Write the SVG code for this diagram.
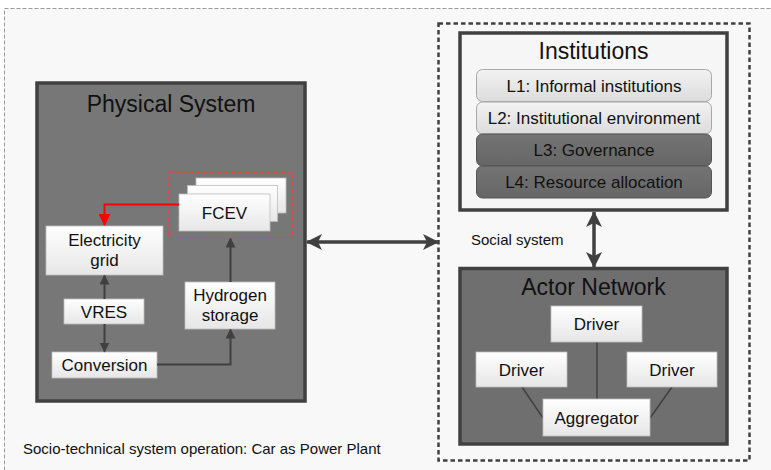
<svg xmlns="http://www.w3.org/2000/svg" width="771" height="470" viewBox="0 0 771 470">
  <defs>
    <linearGradient id="card" x1="0" y1="0" x2="0" y2="1">
      <stop offset="0" stop-color="#ffffff"/>
      <stop offset="1" stop-color="#e6e6e6"/>
    </linearGradient>
    <linearGradient id="layerLight" x1="0" y1="0" x2="0" y2="1">
      <stop offset="0" stop-color="#f2f2f2"/>
      <stop offset="1" stop-color="#dcdcdc"/>
    </linearGradient>
    <linearGradient id="layerDark" x1="0" y1="0" x2="0" y2="1">
      <stop offset="0" stop-color="#747474"/>
      <stop offset="1" stop-color="#666666"/>
    </linearGradient>
    <marker id="head" viewBox="0 0 10 10" refX="9" refY="5" markerWidth="10" markerHeight="10" markerUnits="userSpaceOnUse" orient="auto-start-reverse">
      <path d="M0,0 L10,5 L0,10 z" fill="#404040"/>
    </marker>
    <marker id="bigHead" viewBox="0 0 16 16" refX="15" refY="8" markerWidth="16" markerHeight="16" markerUnits="userSpaceOnUse" orient="auto-start-reverse">
      <path d="M0,0 L16,8 L0,16 L4,8 z" fill="#404040"/>
    </marker>
    <marker id="redHead" viewBox="0 0 12 12" refX="11" refY="6" markerWidth="12" markerHeight="12" markerUnits="userSpaceOnUse" orient="auto">
      <path d="M0,0 L12,6 L0,12 z" fill="#ff0000"/>
    </marker>
  </defs>
  <style>
    text { font-family: "Liberation Sans", Arial, sans-serif; fill: #111; }
    .title { font-size: 23px; text-anchor: middle; }
    .label { font-size: 17px; text-anchor: middle; }
    .small { font-size: 15px; }
    .box { fill: url(#card); stroke: #bdbdbd; stroke-width: 0.8; }
    .frame { stroke: #404040; stroke-width: 3.5; }
    .link { fill: none; stroke: #404040; stroke-width: 2; }
    .tie { fill: none; stroke: #404040; stroke-width: 1.5; }
  </style>

  <!-- background page -->
  <rect x="0" y="0" width="771" height="470" fill="#ffffff"/>
  <rect x="4.5" y="8.5" width="780" height="480" fill="#f8f8f8" stroke="#9a9a9a" stroke-width="1" stroke-dasharray="4 2"/>

  <!-- physical system -->
  <g id="physical-system">
    <rect x="37" y="83" width="268" height="318" fill="#777777" class="frame"/>
    <text class="title" x="171" y="112">Physical System</text>
  </g>

  <g id="fcev">
    <rect x="168.5" y="172.5" width="124" height="65" fill="none" stroke="#d84a4a" stroke-width="1" stroke-dasharray="4 3"/>
    <rect class="box" x="196" y="178" width="90" height="35"/>
    <rect class="box" x="187.5" y="185.5" width="90" height="36"/>
    <rect class="box" x="179" y="194" width="91" height="37"/>
    <text class="label" x="224.5" y="219">FCEV</text>
  </g>

  <g id="electricity-grid">
    <rect class="box" x="46" y="226" width="117" height="49"/>
    <text class="label" x="104.5" y="246">Electricity</text>
    <text class="label" x="104.5" y="266">grid</text>
  </g>

  <g id="vres">
    <rect class="box" x="64" y="299" width="80" height="25"/>
    <text class="label" x="104" y="317.5">VRES</text>
  </g>

  <g id="conversion">
    <rect class="box" x="52" y="352" width="105" height="26"/>
    <text class="label" x="104.5" y="370.5">Conversion</text>
  </g>

  <g id="hydrogen-storage">
    <rect class="box" x="185" y="282" width="90" height="47"/>
    <text class="label" x="230" y="301">Hydrogen</text>
    <text class="label" x="230" y="321">storage</text>
  </g>

  <!-- social system -->
  <g id="social-system">
    <rect x="438.5" y="23.5" width="311" height="437" fill="none" stroke="#404040" stroke-width="2.5" stroke-dasharray="4.5 3"/>
    <text class="small" x="471" y="245">Social system</text>
  </g>

  <g id="institutions">
    <rect x="460" y="33" width="267" height="177" fill="#f6f6f6" class="frame"/>
    <text class="title" x="593.5" y="59">Institutions</text>
    <rect x="476.5" y="69.5" width="235" height="32" rx="6" fill="url(#layerLight)" stroke="#a8a8a8" stroke-width="1"/>
    <text class="label" x="594" y="91.5">L1: Informal institutions</text>
    <rect x="476.5" y="102" width="235" height="32" rx="6" fill="url(#layerLight)" stroke="#a8a8a8" stroke-width="1"/>
    <text class="label" x="594" y="123.5">L2: Institutional environment</text>
    <rect x="476.5" y="134" width="235" height="32" rx="6" fill="url(#layerDark)" stroke="#555555" stroke-width="1"/>
    <text class="label" x="594" y="156">L3: Governance</text>
    <rect x="476.5" y="166" width="235" height="32" rx="6" fill="url(#layerDark)" stroke="#555555" stroke-width="1"/>
    <text class="label" x="594" y="187.5">L4: Resource allocation</text>
  </g>

  <g id="actor-network">
    <rect x="460" y="268.5" width="267" height="175.5" fill="#6f6f6f" class="frame"/>
    <text class="title" x="593.5" y="295">Actor Network</text>
  </g>

  <!-- connectors -->
  <g id="connectors">
    <polyline points="179,204.5 104.5,204.5 104.5,225" fill="none" stroke="#ff0000" stroke-width="2" marker-end="url(#redHead)"/>
    <line class="link" x1="104.5" y1="299" x2="104.5" y2="275.5" marker-end="url(#head)"/>
    <line class="link" x1="104.5" y1="324" x2="104.5" y2="351.5" marker-end="url(#head)"/>
    <polyline class="link" points="157,364.5 230.5,364.5 230.5,329.5" marker-end="url(#head)"/>
    <line class="link" x1="230.5" y1="282" x2="230.5" y2="238.5" marker-end="url(#head)"/>
    <line x1="307" y1="242" x2="438" y2="242" stroke="#404040" stroke-width="3.5" marker-start="url(#bigHead)" marker-end="url(#bigHead)"/>
    <line x1="594" y1="212" x2="594" y2="267" stroke="#404040" stroke-width="3.5" marker-start="url(#bigHead)" marker-end="url(#bigHead)"/>
    <line class="tie" x1="597" y1="342" x2="597" y2="399"/>
    <line class="tie" x1="522" y1="387" x2="543" y2="418"/>
    <line class="tie" x1="672" y1="387" x2="650" y2="418"/>
  </g>

  <g id="driver-top">
    <rect class="box" x="551" y="306" width="91" height="36"/>
    <text class="label" x="596.5" y="329.5">Driver</text>
  </g>
  <g id="driver-left">
    <rect class="box" x="476" y="352" width="91" height="35"/>
    <text class="label" x="521.5" y="375.5">Driver</text>
  </g>
  <g id="driver-right">
    <rect class="box" x="627" y="352" width="90" height="35"/>
    <text class="label" x="672" y="375.5">Driver</text>
  </g>
  <g id="aggregator">
    <rect class="box" x="543" y="399" width="107" height="37"/>
    <text class="label" x="596.5" y="423.5">Aggregator</text>
  </g>

  <g id="caption">
    <text class="small" x="23" y="454">Socio-technical system operation: Car as Power Plant</text>
  </g>
</svg>
